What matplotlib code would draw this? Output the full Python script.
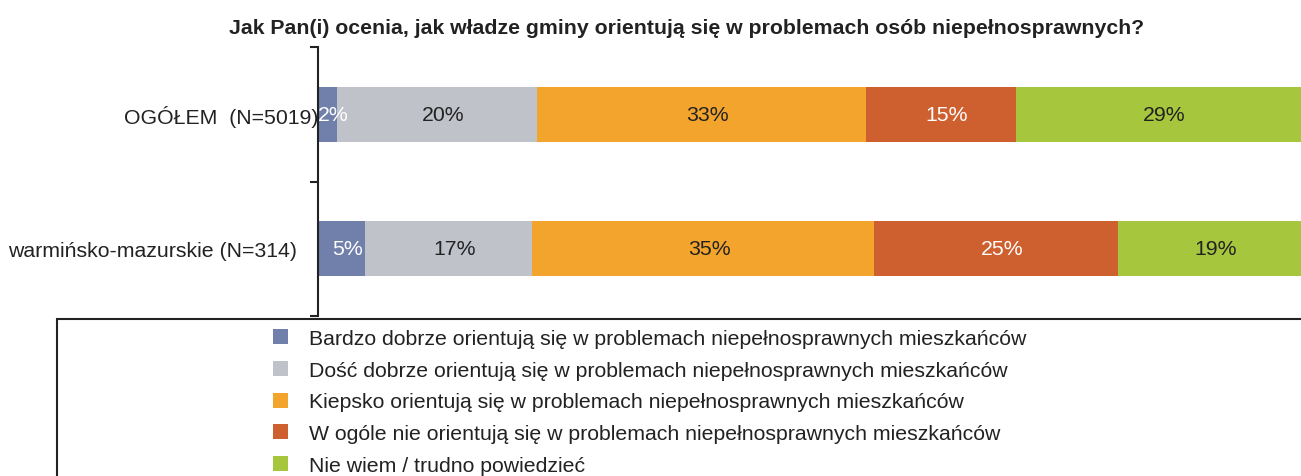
import matplotlib.pyplot as plt
from matplotlib.patches import Rectangle
from matplotlib.transforms import ScaledTranslation

plt.rcParams['font.family'] = ['Liberation Sans', 'DejaVu Sans']

title = 'Jak Pan(i) ocenia, jak władze gminy orientują się w problemach osób niepełnosprawnych?'
groups = ['OGÓŁEM  (N=5019)', 'warmińsko-mazurskie (N=314)']
answers = [
    'Bardzo dobrze orientują się w problemach niepełnosprawnych mieszkańców',
    'Dość dobrze orientują się w problemach niepełnosprawnych mieszkańców',
    'Kiepsko orientują się w problemach niepełnosprawnych mieszkańców',
    'W ogóle nie orientują się w problemach niepełnosprawnych mieszkańców',
    'Nie wiem / trudno powiedzieć',
]
# wartości procentowe, kolejno dla grup
values = [
    [1.9, 4.8],
    [20.4, 17.0],
    [33.4, 34.8],
    [15.3, 24.8],
    [29.0, 18.6],
]
labels = [
    ['2%', '5%'],
    ['20%', '17%'],
    ['33%', '35%'],
    ['15%', '25%'],
    ['29%', '19%'],
]
colors = ['#717fab', '#c0c2c9', '#f3a42d', '#ce6030', '#a6c63e']
text_colors = ['white', '#222222', '#222222', 'white', '#222222']

fs = 15.3
W, H = 1301, 477
fig = plt.figure(figsize=(W / 100, H / 100), dpi=100)
ax = fig.add_axes([318 / W, 1 - 317 / H, 1 - 318 / W, (317 - 48) / H])

ypos = list(range(len(groups)))
left = [0.0] * len(groups)
for k, ans in enumerate(answers):
    ax.barh(ypos, values[k], left=left, height=0.41, color=colors[k], label=ans)
    for i in ypos:
        ax.text(left[i] + values[k][i] / 2 + 0.6, i, labels[k][i],
                ha='center', va='center', fontsize=fs, color=text_colors[k])
    left = [l + v for l, v in zip(left, [values[k][i] for i in ypos])]

ax.set_xlim(0, 100)
ax.set_ylim(1.5, -0.5)
for s in ['top', 'right', 'bottom']:
    ax.spines[s].set_visible(False)
ax.spines['left'].set_linewidth(1.5)
ax.spines['left'].set_color('#222222')
ax.set_xticks([])
ax.set_yticks(ypos)
ax.set_yticklabels(groups, fontsize=fs, color='#222222')
ax.tick_params(axis='y', which='major', length=0, pad=0)
ax.set_yticks([-0.5, 0.5, 1.5], minor=True)
ax.tick_params(axis='y', which='minor', length=6, width=1.5, color='#222222')
# druga etykieta odsunięta od osi
lab = ax.get_yticklabels()[1]
lab.set_transform(lab.get_transform() + ScaledTranslation(-0.21, 0, fig.dpi_scale_trans))

fig.text(687 / W, 1 - 28 / H, title, ha='center', va='center',
         fontsize=fs, fontweight='bold', color='#222222')

# ramka legendy
fig.patches.append(Rectangle((57 / W, -0.1), 1.2, 1 - 320 / H + 0.1,
                             transform=fig.transFigure, fill=False,
                             edgecolor='#222222', linewidth=1.5))
handles, hlabels = ax.get_legend_handles_labels()
leg = fig.legend(handles, hlabels, loc='upper left', bbox_to_anchor=(273 / W, 1 - 330 / H),
                 frameon=False, fontsize=fs, handlelength=0.7, handleheight=0.7,
                 handletextpad=1.0, labelspacing=0.6, borderpad=0, borderaxespad=0)
for t in leg.get_texts():
    t.set_color('#222222')

fig.savefig('out.png', dpi=100)
